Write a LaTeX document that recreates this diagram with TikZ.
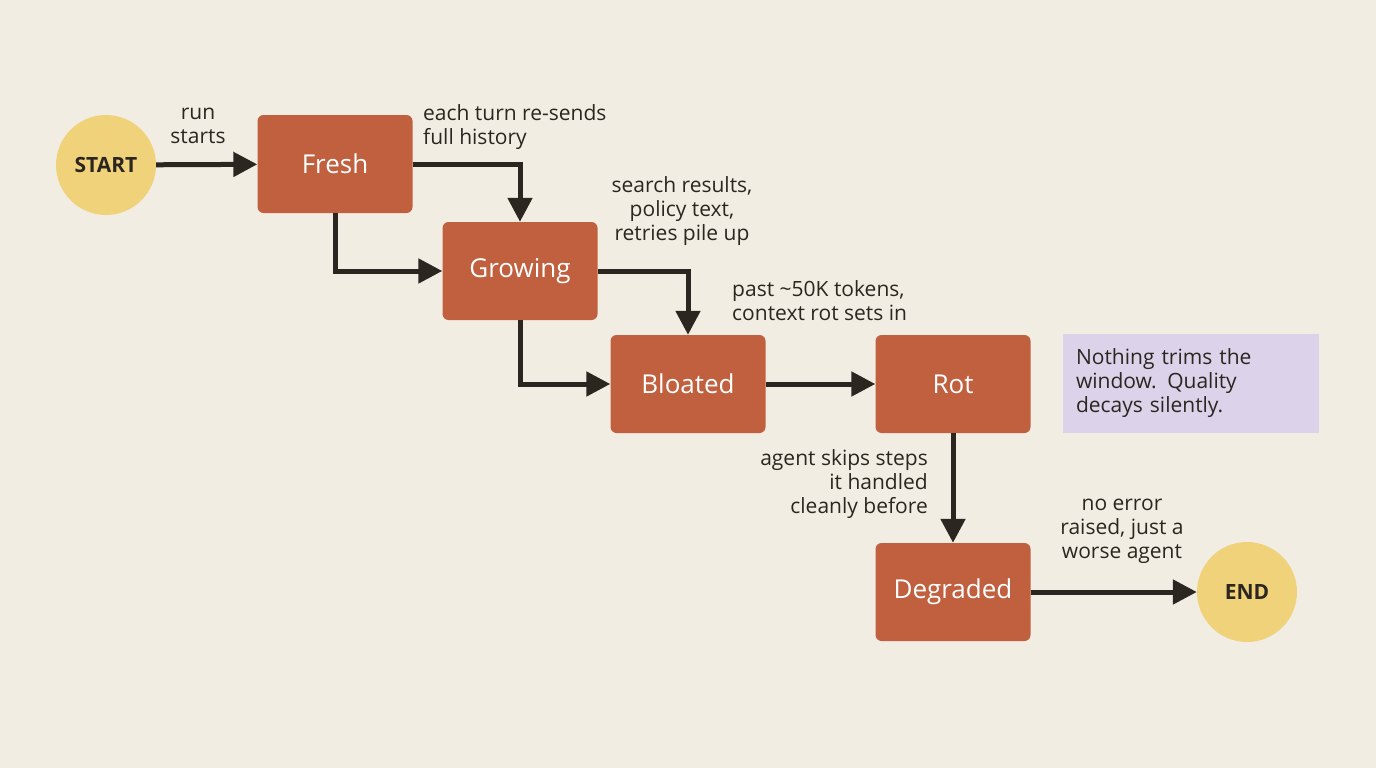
\documentclass[tikz,border=0pt]{standalone}
\usepackage{fontspec}
\setmainfont{Open Sans}
\usetikzlibrary{arrows.meta,positioning}
\definecolor{bgc}{HTML}{F2EDE2}
\definecolor{boxc}{HTML}{C0603F}
\definecolor{endc}{HTML}{F0D27A}
\definecolor{notec}{HTML}{DCD3EA}
\definecolor{arrc}{HTML}{2B2620}
\tikzset{
  st/.style={draw=none, fill=boxc, rounded corners=6pt, minimum width=155pt,
    minimum height=98pt, text=white, font=\fontsize{26}{30}\selectfont},
  term/.style={circle, fill=endc, minimum size=100pt, inner sep=0pt,
    text=arrc, font=\bfseries\fontsize{21}{25}\selectfont},
  lbl/.style={text=arrc, font=\fontsize{21}{24}\selectfont, inner sep=0pt},
  flow/.style={arrc, line width=5pt, -{Triangle[length=24pt,width=24pt]}}
}
\begin{document}
\begin{tikzpicture}[x=1pt,y=-1pt]
  \fill[bgc] (0,0) rectangle (1376,768);
  \useasboundingbox (0,0) rectangle (1376,768);

  \node[term] (start) at (106,165) {START};
  \node[st] (fresh) at (335,164) {Fresh};
  \node[st] (grow) at (520,271) {Growing};
  \node[st] (bloat) at (688,384) {Bloated};
  \node[st] (rot) at (953,384) {Rot};
  \node[st] (deg) at (953,592) {Degraded};
  \node[term] (end) at (1247,592) {END};
  \node[fill=notec, minimum width=256pt, minimum height=99pt, text width=230pt,
    align=left, lbl, inner sep=0pt] (note) at (1191,383)
    {Nothing trims the\\window. Quality\\decays silently.};

  % connectors
  \draw[flow] (start) -- (fresh);
  \draw[flow] (fresh.east) -| (grow.north);
  \draw[flow] (fresh.south) |- (grow.west);
  \draw[flow] (grow.east) -| (bloat.north);
  \draw[flow] (grow.south) |- (bloat.west);
  \draw[flow] (bloat) -- (rot);
  \draw[flow] (rot) -- (deg);
  \draw[flow] (deg) -- (end);

  % labels
  \node[lbl, align=center] (l1) at (198,126) {run\\starts};
  \node[lbl, align=left, anchor=west] (l2) at (423,127) {each turn re-sends\\full history};
  \node[lbl, align=center] (l3) at (682,211) {search results,\\policy text,\\retries pile up};
  \node[lbl, align=left, anchor=west] (l4) at (732,301) {past \textasciitilde 50K tokens,\\context rot sets in};
  \node[lbl, align=right, anchor=east] (l5) at (928,484) {agent skips steps\\it handled\\cleanly before};
  \node[lbl, align=center] (l6) at (1122,531) {no error\\raised, just a\\worse agent};
\end{tikzpicture}
\end{document}
